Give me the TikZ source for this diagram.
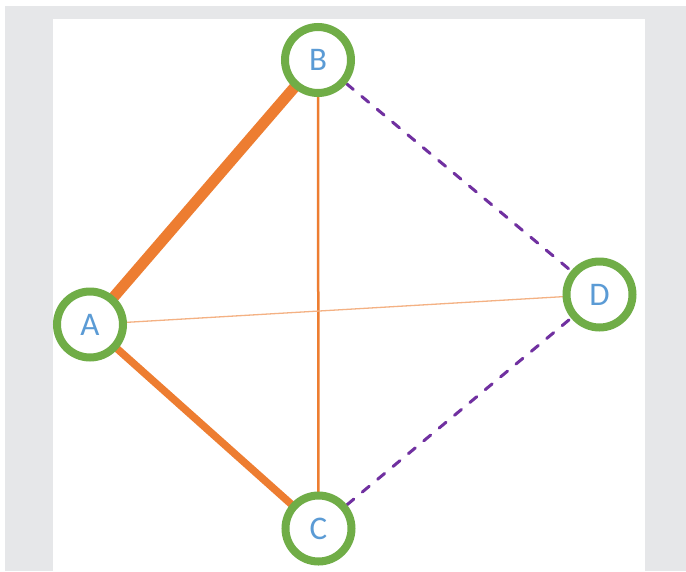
\documentclass[tikz,border=0pt]{standalone}
\usepackage{fontspec}
\setmainfont{Carlito}
\definecolor{ringgreen}{HTML}{70AD47}
\definecolor{edgeorange}{HTML}{ED7D31}
\definecolor{lightorange}{HTML}{F4B183}
\definecolor{dashpurple}{HTML}{7030A0}
\definecolor{lettblue}{HTML}{5B9BD5}
\definecolor{pagegray}{HTML}{E6E7E9}
\pgfdeclarelayer{bglayer}
\pgfdeclarelayer{edgelayer}
\pgfsetlayers{bglayer,edgelayer,main}
\tikzset{
  vertex/.style={circle, draw=ringgreen, line width=8pt, fill=white, minimum size=66pt, inner sep=0pt,
    text=lettblue, font=\fontsize{33}{36}\selectfont},
  heavyedge/.style={draw=edgeorange, line width=11pt},
  mededge/.style={draw=edgeorange, line width=7.5pt},
  thinedge/.style={draw=edgeorange, line width=2.5pt},
  faintedge/.style={draw=lightorange, line width=1.3pt},
  dashedge/.style={draw=dashpurple, line width=3pt, line cap=round, dash pattern=on 9pt off 11pt}
}
\begin{document}
\begin{tikzpicture}[x=1pt,y=-1pt]
\begin{pgfonlayer}{bglayer}
  \fill[white] (0,0) rectangle (686,571);
  \fill[pagegray] (5,6) rectangle (686,571);
  \fill[white] (53,19) rectangle (645,571);
\end{pgfonlayer}
\useasboundingbox (0,0) rectangle (686,571);
\node[vertex] (B) at (318,60) {B};
\node[vertex] (A) at (90,324.5) {A};
\node[vertex] (C) at (318.5,528.5) {C};
\node[vertex] (D) at (599.5,294.5) {D};
\begin{pgfonlayer}{edgelayer}
  \draw[heavyedge] (A.center) -- (B.center);
  \draw[mededge] (A.center) -- (C.center);
  \draw[thinedge] (B.center) -- (C.center);
  \draw[faintedge] (A.center) -- (D.center);
  \draw[dashedge] (B) -- (D);
  \draw[dashedge] (C) -- (D);
\end{pgfonlayer}
\end{tikzpicture}
\end{document}
